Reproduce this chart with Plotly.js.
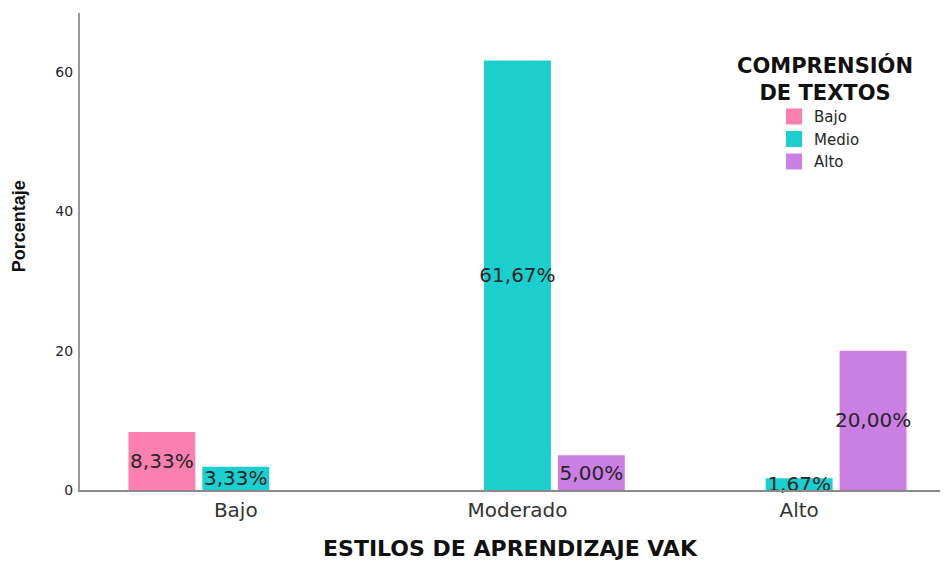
<!DOCTYPE html>
<html>
<head>
<meta charset="utf-8">
<script src="https://cdn.plot.ly/plotly-3.0.1.min.js"></script>
<style>html,body{margin:0;padding:0;background:#fff;}#chart{width:943px;height:561px;}</style>
</head>
<body>
<div id="chart"></div>
<script>
var categories = ['Bajo', 'Moderado', 'Alto'];
var seriesNames = ['Bajo', 'Medio', 'Alto'];
var valuesBajo = [8.33, null, null];
var valuesMedio = [3.33, 61.67, 1.67];
var valuesAlto = [null, 5.00, 20.00];
var yTickVals = [0, 20, 40, 60];
var colors = ['#fb80b0', '#1ccfcf', '#cb7fe5'];
var legendTitle = 'COMPRENSIÓN<br>DE TEXTOS';

var FONT = 'DejaVu Sans, Verdana, sans-serif';

function fmt(v) { return v === null ? '' : v.toFixed(2).replace('.', ',') + '%'; }

var allValues = [valuesBajo, valuesMedio, valuesAlto];
var traces = allValues.map(function (vals, i) {
  return {
    type: 'bar',
    name: seriesNames[i],
    legendgroup: seriesNames[i],
    showlegend: false,
    x: categories,
    y: vals,
    text: vals.map(fmt),
    textposition: 'inside',
    insidetextanchor: 'middle',
    constraintext: 'none',
    textangle: 0,
    cliponaxis: false,
    textfont: {family: FONT, size: 20, color: '#262626'},
    marker: {color: colors[i], line: {width: 0}},
    hoverinfo: 'skip'
  };
});
// legend swatches (no data points, legend entries only)
seriesNames.forEach(function (nm, i) {
  traces.push({
    type: 'scatter', mode: 'markers',
    name: nm, legendgroup: nm,
    x: [null], y: [null],
    marker: {symbol: 'square', size: 16, color: colors[i]},
    hoverinfo: 'skip'
  });
});

var layout = {
  width: 943, height: 561,
  margin: {l: 80, r: 3, t: 13, b: 71},
  paper_bgcolor: '#ffffff', plot_bgcolor: '#ffffff',
  barmode: 'group',
  bargap: 0.213,
  bargroupgap: 0.095,
  font: {family: FONT, color: '#262626'},
  xaxis: {
    type: 'category',
    range: [-0.553, 2.5],
    showgrid: false, zeroline: false,
    showline: true, linecolor: '#8a8a8a', linewidth: 1.5,
    ticks: '',
    ticklabelstandoff: 1,
    tickfont: {family: FONT, size: 20, color: '#333333'},
    title: {text: 'ESTILOS DE APRENDIZAJE VAK', font: {size: 22, color: '#111111', family: 'DejaVu Sans, sans-serif', weight: 'bold'}, standoff: 20}
  },
  yaxis: {
    range: [0, 68.5],
    tickvals: yTickVals,
    ticktext: yTickVals.map(String),
    showgrid: false, zeroline: false,
    showline: true, linecolor: '#9a9a9a', linewidth: 2,
    ticks: '',
    ticklabelstandoff: 2,
    tickfont: {family: FONT, size: 14, color: '#262626'}
  },
  showlegend: true,
  legend: {
    x: 0.807, xanchor: 'left',
    y: 0.817, yanchor: 'top',
    bgcolor: 'rgba(0,0,0,0)',
    font: {family: FONT, size: 15, color: '#262626'},
    tracegroupgap: 0,
    itemwidth: 30,
    itemclick: false, itemdoubleclick: false
  },
  annotations: [
    {
      xref: 'paper', yref: 'paper',
      x: -0.071, y: 0.553, xanchor: 'center', yanchor: 'middle',
      showarrow: false, textangle: -90,
      text: 'Porcentaje',
      font: {size: 18, color: '#111111', family: 'Liberation Sans, Arial, sans-serif', weight: 'bold'}
    },
    {
      xref: 'paper', yref: 'paper',
      x: 0.866, y: 0.861, xanchor: 'center', yanchor: 'middle',
      showarrow: false, text: legendTitle,
      font: {size: 21, color: '#111111', family: 'DejaVu Sans, sans-serif', weight: 'bold'}
    }
  ]
};

Plotly.newPlot('chart', traces, layout, {displayModeBar: false, staticPlot: true});
</script>
</body>
</html>
